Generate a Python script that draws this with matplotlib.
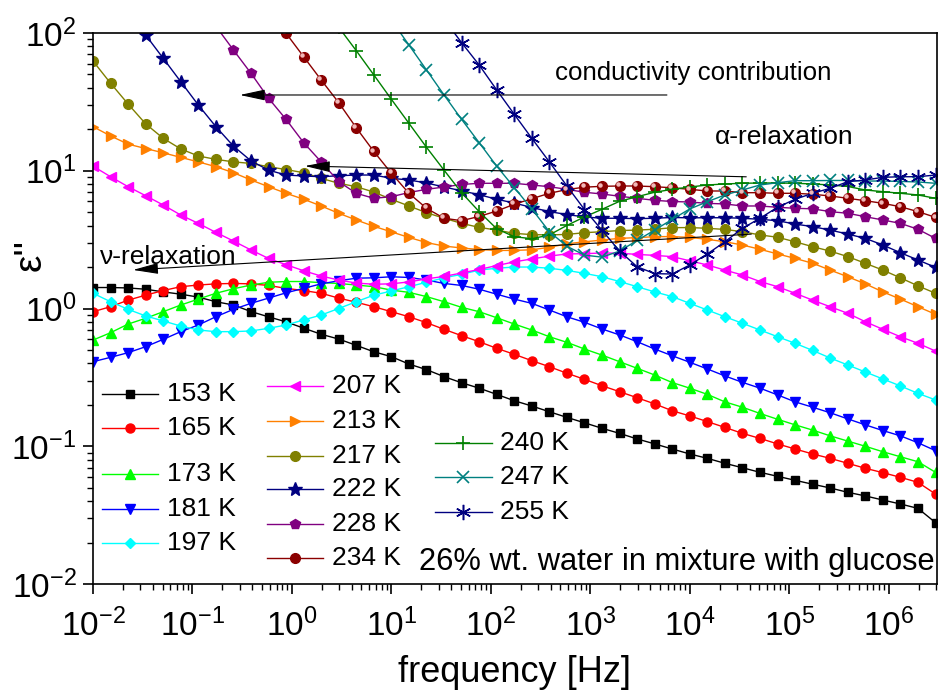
import numpy as np
import matplotlib
matplotlib.use('Agg')
import matplotlib.pyplot as plt
from matplotlib.ticker import LogLocator, NullFormatter
from matplotlib.transforms import ScaledTranslation

# measurement frequencies (instrument log sweep)
freq = np.logspace(-2, 6.47, 49)

# dielectric loss eps'' for each temperature
t153 = [1.42, 1.42, 1.41, 1.38, 1.32, 1.27, 1.21, 1.12, 1.06, 0.95,
        0.87, 0.80, 0.72, 0.65, 0.60, 0.54, 0.485, 0.447, 0.395, 0.36,
        0.320, 0.289, 0.264, 0.238, 0.214, 0.196, 0.178, 0.162, 0.148, 0.135,
        0.124, 0.113, 0.104, 0.0955, 0.0879, 0.0817, 0.0752, 0.0698, 0.0647, 0.0605,
        0.0566, 0.0530, 0.0498, 0.0463, 0.0436, 0.0407, 0.0381, 0.0354, 0.0279]
t165 = [0.948, 1.03, 1.15, 1.25, 1.35, 1.44, 1.48, 1.51, 1.52, 1.51,
        1.47, 1.40, 1.35, 1.29, 1.19, 1.11, 1.03, 0.948, 0.871, 0.789,
        0.706, 0.635, 0.574, 0.514, 0.465, 0.418, 0.378, 0.339, 0.306, 0.275,
        0.249, 0.225, 0.203, 0.181, 0.166, 0.151, 0.137, 0.124, 0.114, 0.104,
        0.0955, 0.0879, 0.0817, 0.0752, 0.0692, 0.0643, 0.0595, 0.0547, 0.0450]
t173 = [0.590, 0.667, 0.771, 0.849, 0.948, 1.06, 1.17, 1.29, 1.39, 1.48,
        1.55, 1.57, 1.57, 1.54, 1.52, 1.48, 1.44, 1.36, 1.31, 1.22,
        1.12, 1.02, 0.948, 0.857, 0.771, 0.698, 0.624, 0.568, 0.508, 0.459,
        0.411, 0.368, 0.329, 0.290, 0.264, 0.238, 0.210, 0.192, 0.173, 0.157,
        0.143, 0.131, 0.119, 0.109, 0.100, 0.0912, 0.0839, 0.0772, 0.0647]
t181 = [0.411, 0.442, 0.478, 0.528, 0.597, 0.679, 0.759, 0.871, 0.986, 1.09,
        1.19, 1.30, 1.40, 1.51, 1.59, 1.66, 1.67, 1.70, 1.68, 1.61,
        1.52, 1.47, 1.38, 1.27, 1.17, 1.09, 0.975, 0.871, 0.794, 0.710,
        0.643, 0.574, 0.508, 0.454, 0.407, 0.364, 0.324, 0.291, 0.264, 0.236,
        0.210, 0.192, 0.175, 0.158, 0.143, 0.130, 0.119, 0.106, 0.0929]
t197 = [1.29, 1.12, 0.986, 0.883, 0.812, 0.746, 0.698, 0.679, 0.679, 0.687,
        0.718, 0.759, 0.826, 0.897, 1.00, 1.12, 1.25, 1.34, 1.44, 1.55,
        1.67, 1.77, 1.90, 1.96, 2.00, 2.00, 1.96, 1.89, 1.80, 1.70,
        1.57, 1.44, 1.32, 1.22, 1.09, 0.975, 0.871, 0.781, 0.698, 0.624,
        0.559, 0.496, 0.437, 0.389, 0.346, 0.308, 0.274, 0.242, 0.217]
t207 = [10.8, 9.05, 7.66, 6.59, 5.64, 4.77, 4.15, 3.57, 3.09, 2.66,
        2.31, 2.08, 1.88, 1.72, 1.61, 1.53, 1.50, 1.51, 1.56, 1.64,
        1.71, 1.81, 1.92, 2.05, 2.18, 2.29, 2.40, 2.49, 2.50, 2.53,
        2.52, 2.47, 2.43, 2.38, 2.22, 2.07, 1.90, 1.75, 1.57, 1.44,
        1.29, 1.15, 1.03, 0.923, 0.802, 0.706, 0.624, 0.559, 0.491]
t213 = [20.9, 17.9, 15.6, 14.5, 13.5, 12.5, 11.6, 10.7, 9.68, 8.57,
        7.66, 6.86, 6.21, 5.55, 4.91, 4.39, 3.95, 3.60, 3.28, 3.01,
        2.84, 2.75, 2.68, 2.64, 2.64, 2.67, 2.78, 2.95, 3.05, 3.14,
        3.23, 3.27, 3.32, 3.33, 3.28, 3.18, 3.05, 2.89, 2.69, 2.49,
        2.31, 2.13, 1.90, 1.70, 1.51, 1.32, 1.17, 1.03, 0.908]
t217 = [62.6, 43.2, 30.5, 21.9, 17.2, 14.4, 12.8, 12.1, 11.6, 11.3,
        10.7, 10.2, 9.68, 8.81, 8.11, 7.66, 7.00, 6.20, 5.55, 4.96,
        4.52, 4.15, 3.88, 3.71, 3.51, 3.44, 3.42, 3.45, 3.55, 3.61,
        3.68, 3.71, 3.76, 3.86, 3.87, 3.82, 3.75, 3.61, 3.42, 3.29,
        3.05, 2.81, 2.61, 2.38, 2.13, 1.90, 1.67, 1.46, 1.29]
t222 = [None, None, 142, 96.7, 65.5, 44.3, 30.0, 20.9, 15.1, 11.8,
        10.1, 9.31, 9.16, 9.05, 9.20, 9.31, 9.31, 8.81, 8.57, 8.15,
        7.62, 7.15, 6.70, 6.21, 5.83, 5.41, 5.05, 4.81, 4.62, 4.52,
        4.52, 4.49, 4.52, 4.58, 4.55, 4.56, 4.56, 4.52, 4.44, 4.34,
        4.10, 3.93, 3.71, 3.47, 3.23, 2.89, 2.54, 2.25, 1.99]
t228 = [None, None, None, None, None, None, None, 112, 75.3, 51.0,
        33.6, 23.6, 16.0, 11.6, 8.33, 6.86, 6.31, 6.48, 6.95, 7.33,
        7.62, 7.95, 8.11, 8.11, 8.11, 7.88, 7.66, 7.33, 6.98, 6.78,
        6.53, 6.31, 6.10, 5.98, 5.93, 5.80, 5.74, 5.55, 5.55, 5.43,
        5.34, 5.29, 5.05, 4.91, 4.64, 4.39, 4.15, 3.76, 3.23]
t234 = [None, None, None, None, None, None, None, None, None, None,
        147, 99.5, 67.3, 45.6, 31.2, 20.5, 13.8, 9.59, 6.86, 5.34,
        4.52, 4.34, 4.66, 5.10, 5.71, 6.27, 6.86, 7.30, 7.60, 7.71,
        7.75, 7.75, 7.66, 7.52, 7.33, 7.13, 7.13, 6.93, 6.93, 6.86,
        6.86, 6.75, 6.56, 6.31, 6.06, 5.80, 5.48, 5.05, 4.59]
t240 = [None, None, None, None, None, None, None, None, None, None,
        None, None, None, None, 110, 74.4, 49.6, 33.0, 22.1, 14.8,
        10.1, 6.93, 5.05, 3.79, 3.32, 3.21, 3.42, 4.01, 4.62, 5.25,
        6.00, 6.48, 6.98, 7.33, 7.62, 7.88, 8.02, 8.11, 8.15, 8.15,
        8.11, 8.02, 7.88, 7.69, 7.25, 7.05, 6.86, 6.67, 6.31]
t247 = [None, None, None, None, None, None, None, None, None, None,
        None, None, None, None, None, None, None, 124, 81.8, 53.9,
        35.5, 23.6, 16.0, 10.8, 7.55, 5.28, 3.61, 2.83, 2.44, 2.36,
        2.61, 3.12, 3.71, 4.44, 5.28, 5.96, 6.67, 7.25, 7.88, 8.19,
        8.47, 8.47, 8.50, 8.50, 8.42, 8.42, 8.36, 8.29, 8.11]
t255 = [None, None, None, None, None, None, None, None, None, None,
        None, None, None, None, None, None, None, None, None, None,
        126, 85.1, 58.6, 38.6, 25.7, 17.2, 11.6, 7.75, 5.23, 3.70,
        2.61, 2.01, 1.79, 1.78, 2.07, 2.49, 3.05, 3.82, 4.52, 5.43,
        6.21, 6.86, 7.46, 8.33, 8.57, 8.96, 9.05, 9.05, 9.31]

labels = ['153 K', '165 K', '173 K', '181 K', '197 K', '207 K', '213 K',
          '217 K', '222 K', '228 K', '234 K', '240 K', '247 K', '255 K']

x_decades = [1e-2, 1e-1, 1e0, 1e1, 1e2, 1e3, 1e4, 1e5, 1e6]
y_decades = [1e-2, 1e-1, 1e0, 1e1, 1e2]

plt.rcParams['font.family'] = ['Liberation Sans', 'DejaVu Sans']
plt.rcParams['mathtext.fontset'] = 'custom'
plt.rcParams['mathtext.rm'] = 'Liberation Sans'
plt.rcParams['axes.unicode_minus'] = False

# marker styles, one per temperature
styles = [
    dict(color='black', marker='s', ms=5.5),
    dict(color='#ff0000', marker='o', ms=6.5),
    dict(color='#00ff00', marker='^', ms=7),
    dict(color='#0000ff', marker='v', ms=7),
    dict(color='#00ffff', marker='D', ms=5.5),
    dict(color='#ff00ff', marker='<', ms=7),
    dict(color='#ff8000', marker='>', ms=7),
    dict(color='#808000', marker='o', ms=7),
    dict(color='#000080', marker='*', ms=10.5),
    dict(color='#800080', marker='p', ms=7.5),
    dict(color='#8b0000', marker='o', ms=7),
    dict(color='#008000', marker='+', ms=10, mew=1.2),
    dict(color='#008080', marker='x', ms=9, mew=1.2),
    dict(color='#000080', marker=(6, 2, 0), ms=11, mew=1.1),
]

fig = plt.figure(figsize=(9.39, 6.95), dpi=100)
ax = fig.add_axes([93 / 939, 111 / 695, 844 / 939, 551 / 695])

all_data = [t153, t165, t173, t181, t197, t207, t213, t217, t222, t228,
            t234, t240, t247, t255]
for vals, st in zip(all_data, styles):
    y = np.array(vals, dtype=float)
    ax.plot(freq, y, lw=1.0, **st)

# shiny highlight on the 234 K balls
shift = ScaledTranslation(-1.3 / 72, 1.3 / 72, fig.dpi_scale_trans)
ax.plot(freq, np.array(t234, dtype=float), ls='none', marker='o', ms=2.2,
        color='#f2b8b8', transform=ax.transData + shift)

ax.set_xscale('log')
ax.set_yscale('log')
ax.set_xticks(x_decades)
ax.set_yticks(y_decades)
ax.set_xlim(1e-2, 10 ** 6.485)
ax.set_ylim(1e-2, 1e2)

ax.xaxis.set_minor_locator(LogLocator(base=10, subs=np.arange(2, 10), numticks=100))
ax.yaxis.set_minor_locator(LogLocator(base=10, subs=np.arange(2, 10), numticks=100))
ax.xaxis.set_minor_formatter(NullFormatter())
ax.yaxis.set_minor_formatter(NullFormatter())

ax.tick_params(which='major', direction='out', length=7, width=1.2,
               labelsize=24, pad=5, top=False, right=False)
ax.tick_params(axis='x', which='major', pad=11)
ax.tick_params(which='minor', direction='out', length=4, width=1.0,
               top=False, right=False)
for sp in ax.spines.values():
    sp.set_linewidth(1.2)

ax.set_xlabel('frequency [Hz]', fontsize=26, labelpad=8)
ax.set_ylabel("ε''", fontsize=28)
ax.yaxis.set_label_coords(-0.052, 0.597)

# arrows and annotations
arrow = dict(arrowstyle='-|>,head_length=1.3,head_width=0.28', color='black',
             lw=0.8, shrinkA=0, shrinkB=0, mutation_scale=12)
ax.annotate('', xy=(0.174, 0.8875), xytext=(0.680, 0.8875),
            xycoords='axes fraction', arrowprops=arrow)
ax.annotate('', xy=(0.251, 0.7586), xytext=(0.774, 0.739),
            xycoords='axes fraction', arrowprops=arrow)
ax.annotate('', xy=(0.0474, 0.570), xytext=(0.780, 0.635),
            xycoords='axes fraction', arrowprops=arrow)

ax.text(0.547, 0.927, 'conductivity contribution', transform=ax.transAxes,
        fontsize=18.6, va='center', ha='left')
ax.text(0.737, 0.811, 'α-relaxation', transform=ax.transAxes,
        fontsize=19, va='center', ha='left')
ax.text(0.0083, 0.593, 'ν-relaxation', transform=ax.transAxes,
        fontsize=19, va='center', ha='left')
ax.text(0.9976, 0.040, '26% wt. water in mixture with glucose',
        transform=ax.transAxes, fontsize=22.2, va='center', ha='right')

# hand-placed legend in three columns
cols = [0.0103] * 5 + [0.2058] * 6 + [0.4052] * 3
rows = [0.3448, 0.2826, 0.1991, 0.1356, 0.0738,
        0.3593, 0.2964, 0.2328, 0.1719, 0.1089, 0.0466,
        0.2564, 0.1936, 0.1312]
for x0, y0, lab, st in zip(cols, rows, labels, styles):
    ax.plot([x0, x0 + 0.0336, x0 + 0.0671], [y0, y0, y0], lw=1.0,
            markevery=[1], transform=ax.transAxes, clip_on=False, **st)
    ax.text(x0 + 0.077, y0, lab, transform=ax.transAxes, fontsize=19,
            va='center', ha='left')

fig.savefig('out.png', dpi=100)
